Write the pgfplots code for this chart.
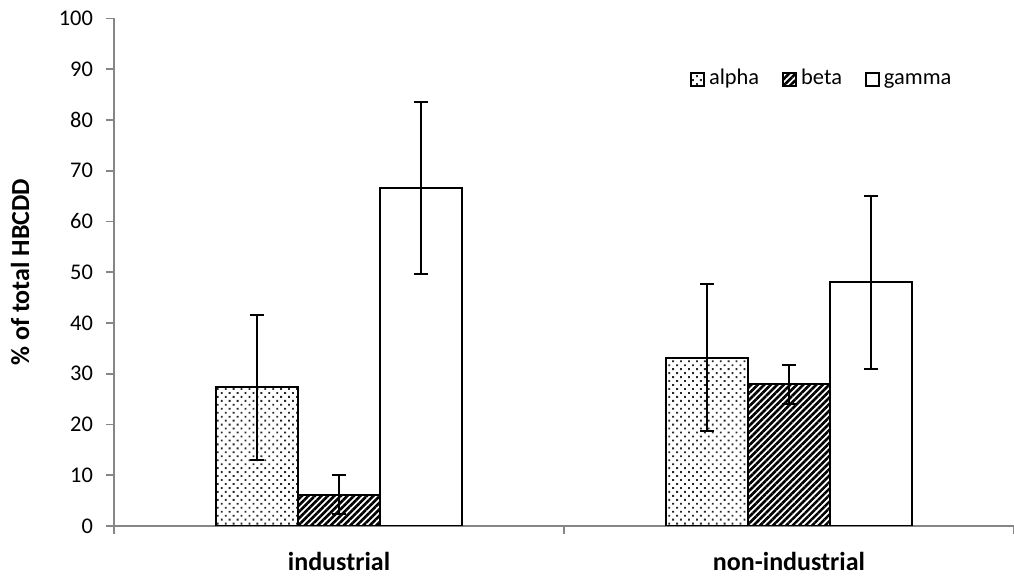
\documentclass[border=0pt]{standalone}
\usepackage{fontspec}
\setmainfont{Carlito}
\usepackage{pgfplots}
\pgfplotsset{compat=1.18}
\usetikzlibrary{patterns.meta}
\definecolor{axgray}{HTML}{868686}

\pgfplotstableread{
x y e
0 27.3 14.3
1 33.2 14.4
}\alphadata
\pgfplotstableread{
x y e
0 6.2 3.8
1 27.9 3.8
}\betadata
\pgfplotstableread{
x y e
0 66.6 17.0
1 48.0 17.0
}\gammadata

\begin{document}
\begin{tikzpicture}
\begin{axis}[
  scale only axis,
  width=450pt, height=253.75pt,
  xmin=-0.5, xmax=1.5,
  ymin=0, ymax=100,
  ytick={0,10,...,100},
  xtick={0,1},
  xticklabels={industrial, non-industrial},
  minor xtick={-0.5,0.5,1.5},
  axis lines=left,
  axis line style={axgray, line width=0.9pt, -},
  tick align=outside,
  major tick length=4pt,
  minor tick length=4pt,
  major x tick style={draw=none},
  minor x tick style={axgray, line width=0.9pt},
  ytick style={axgray, line width=0.9pt},
  /pgf/number format/assume math mode=true,
  yticklabel style={font=\fontsize{11.2}{13}\selectfont, xshift=-3pt},
  xticklabel style={font=\bfseries\fontsize{13}{15}\selectfont, yshift=-5.5pt},
  ylabel={\% of total HBCDD},
  ylabel style={font=\bfseries\fontsize{13}{15}\selectfont, at={(axis description cs:-0.1044,0.5)}, anchor=center},
  ybar=0pt,
  bar width=41pt,
  legend style={draw=none, fill=none, at={(0.633,0.880)}, anchor=west, legend columns=-1,
    font=\fontsize{11.2}{13}\selectfont,
    nodes={text height=1.6ex, text depth=0.5ex},
    /tikz/every odd column/.append style={column sep=0pt},
    /tikz/every even column/.append style={column sep=9.5pt}},
  legend image code/.code={\draw[#1, line width=1pt] (0pt,-3.25pt) rectangle (6.5pt,3.25pt);},
  error bars/y dir=both,
  error bars/y explicit,
  error bars/error bar style={black, line width=1pt, solid},
  error bars/error mark options={black, rotate=90, mark size=3.3pt, line width=1pt},
]
\coordinate (O) at (rel axis cs:0,0);
\addplot[draw=black, line width=1pt, pattern={Dots[distance=2.8pt, radius=0.65pt, angle=45]}, pattern color=black!85]
  table[x=x, y=y, y error=e] {\alphadata};
\addplot[draw=black, line width=1pt, pattern={Lines[angle=45, distance=2.3pt, line width=1.3pt]}, pattern color=black]
  table[x=x, y=y, y error=e] {\betadata};
\addplot[draw=black, line width=1pt, fill=white]
  table[x=x, y=y, y error=e] {\gammadata};
\legend{alpha, beta, gamma}
\end{axis}
\pgfresetboundingbox
\path (O) ++(-57pt,-28.5pt) rectangle ++(507pt,291.5pt);
\end{tikzpicture}
\end{document}
